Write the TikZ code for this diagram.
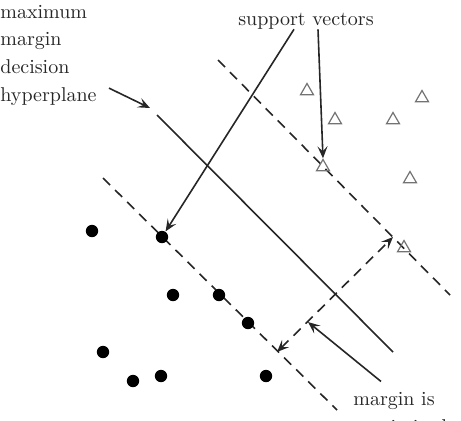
\documentclass[tikz,border=0pt]{standalone}
\usepackage{xcolor}
\usepackage{tikz}
\usetikzlibrary{shapes.geometric, arrows.meta, positioning}

\begin{document}
\begin{tikzpicture}[
    x=0.5pt, y=-0.5pt,
    lbl/.style={anchor=base west, inner sep=0pt, font=\normalsize, text=black!85},
    dotpt/.style={circle, fill=black, minimum size=6.2pt, inner sep=0pt},
    tript/.style={regular polygon, regular polygon sides=3, draw=black!55,
                line width=0.6pt, minimum size=7.5pt, inner sep=0pt},
    plane/.style={line width=0.8pt, black!85},
    marginline/.style={line width=0.8pt, black!85, dash pattern=on 5pt off 3.5pt},
    arrow/.style={-{Stealth[length=6pt, width=5pt, inset=2.5pt]}, line width=0.8pt, black!85},
]
\useasboundingbox (0,0) rectangle (461,420);

% Labels
\node[lbl] (l1) at (0,18) {maximum};
\node[lbl] (l2) at (0,45) {margin};
\node[lbl] (l3) at (0,73) {decision};
\node[lbl] (l4) at (0,101) {hyperplane};
\node[lbl, anchor=base] (sv) at (306,25) {support vectors};
\node[lbl] (mi) at (353,405) {margin is};
\node[lbl] (mx) at (353,433) {maximized};

% Hyperplane and margins
\coordinate (h1) at (157,115);
\coordinate (h2) at (393,352);
\coordinate (a1) at (103,178);
\coordinate (a2) at (337,410);
\coordinate (b1) at (218,60);
\coordinate (b2) at (450,295);
\draw[plane] (h1) -- (h2);
\draw[marginline] (a1) -- (a2);
\draw[marginline] (b1) -- (b2);

% Class one
\node[dotpt] (p1) at (92,231) {};
\node[dotpt] (p2) at (162,237) {};
\node[dotpt] (p3) at (173,295) {};
\node[dotpt] (p4) at (219,295) {};
\node[dotpt] (p5) at (103,352) {};
\node[dotpt] (p6) at (133,381) {};
\node[dotpt] (p7) at (161,376) {};
\node[dotpt] (p8) at (248,323) {};
\node[dotpt] (p9) at (266,376) {};

% Class two
\node[tript] (t1) at (307,91) {};
\node[tript] (t2) at (335,120) {};
\node[tript] (t3) at (393,120) {};
\node[tript] (t4) at (422,98) {};
\node[tript] (t5) at (410,179) {};
\node[tript] (t6) at (323,167) {};
\node[tript] (t7) at (404,248) {};

% Margin width
\coordinate (ma) at (393,237);
\coordinate (mb) at (277,352);
\coordinate (mm) at (308,322);
\draw[marginline, {Stealth[length=6pt, width=5pt, inset=2.5pt]}-{Stealth[length=6pt, width=5pt, inset=2.5pt]}] (mb) -- (ma);

% Arrows
\coordinate (hp) at (150,108);
\draw[arrow] ([xshift=6pt, yshift=4pt]l4.east) -- (hp);
\draw[arrow] ([xshift=-6pt]sv.south) -- (p2);
\draw[arrow] ([xshift=6pt]sv.south) -- (t6.north);
\draw[arrow] ([xshift=14pt, yshift=5pt]mi.north west) -- (mm);

\end{tikzpicture}
\end{document}
